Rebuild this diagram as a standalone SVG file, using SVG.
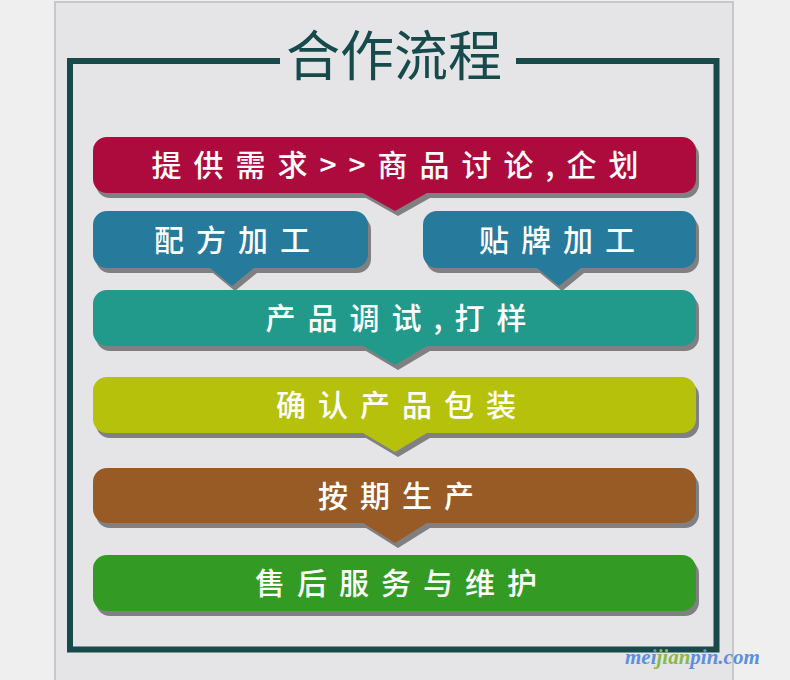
<svg xmlns="http://www.w3.org/2000/svg" width="790" height="680" viewBox="0 0 790 680">
<style>
.shadow{fill:#808083}
.lbl{font-family:"Noto Sans CJK SC","Noto Sans",sans-serif;font-size:30px;font-weight:500;fill:#ffffff;text-anchor:middle;letter-spacing:12px}
.title{font-family:"Noto Sans CJK SC","Noto Sans",sans-serif;font-size:54px;font-weight:400;fill:#164a4b;text-anchor:middle}
.wm{font-family:"Liberation Serif","DejaVu Serif",serif;font-style:italic;font-weight:bold;font-size:21px}
</style>
<rect x="0" y="0" width="790" height="680" fill="#efefef"/>
<rect x="55" y="2" width="678" height="700" fill="#e5e5e7" stroke="#c8c8c8" stroke-width="2"/>
<g id="frame">
<path d="M280,61 H70 V649.5 H716.5 V61 H516" fill="none" stroke="#164a4b" stroke-width="6"/>
<text class="title" x="394" y="76">合作流程</text>
</g>
<g id="connectors"></g>
<g id="n1">
<path class="shadow" transform="translate(3,5)" d="M107,137 H682 A14,14 0 0 1 696,151 V179 A14,14 0 0 1 682,193 H427 L395,211 L363,193 H107 A14,14 0 0 1 93,179 V151 A14,14 0 0 1 107,137 Z"/>
<path fill="#ad0b3e" d="M107,137 H682 A14,14 0 0 1 696,151 V179 A14,14 0 0 1 682,193 H427 L395,211 L363,193 H107 A14,14 0 0 1 93,179 V151 A14,14 0 0 1 107,137 Z"/>
<text class="lbl" x="401" y="176">提供需求&gt;&gt;商品讨论,企划</text>
</g>
<g id="n2">
<path class="shadow" transform="translate(3,5)" d="M107,211 H354 A14,14 0 0 1 368,225 V254 A14,14 0 0 1 354,268 H254 L232,286 L210,268 H107 A14,14 0 0 1 93,254 V225 A14,14 0 0 1 107,211 Z"/>
<path fill="#267a9b" d="M107,211 H354 A14,14 0 0 1 368,225 V254 A14,14 0 0 1 354,268 H254 L232,286 L210,268 H107 A14,14 0 0 1 93,254 V225 A14,14 0 0 1 107,211 Z"/>
<text class="lbl" x="238" y="251">配方加工</text>
</g>
<g id="n3">
<path class="shadow" transform="translate(3,5)" d="M437,211 H682 A14,14 0 0 1 696,225 V254 A14,14 0 0 1 682,268 H581 L559,286 L537,268 H437 A14,14 0 0 1 423,254 V225 A14,14 0 0 1 437,211 Z"/>
<path fill="#267a9b" d="M437,211 H682 A14,14 0 0 1 696,225 V254 A14,14 0 0 1 682,268 H581 L559,286 L537,268 H437 A14,14 0 0 1 423,254 V225 A14,14 0 0 1 437,211 Z"/>
<text class="lbl" x="563" y="251">贴牌加工</text>
</g>
<g id="n4">
<path class="shadow" transform="translate(3,5)" d="M107,290 H682 A14,14 0 0 1 696,304 V332 A14,14 0 0 1 682,346 H427 L395,365 L363,346 H107 A14,14 0 0 1 93,332 V304 A14,14 0 0 1 107,290 Z"/>
<path fill="#229a8b" d="M107,290 H682 A14,14 0 0 1 696,304 V332 A14,14 0 0 1 682,346 H427 L395,365 L363,346 H107 A14,14 0 0 1 93,332 V304 A14,14 0 0 1 107,290 Z"/>
<text class="lbl" x="402" y="329">产品调试,打样</text>
</g>
<g id="n5">
<path class="shadow" transform="translate(3,5)" d="M107,377 H682 A14,14 0 0 1 696,391 V419 A14,14 0 0 1 682,433 H427 L395,452 L363,433 H107 A14,14 0 0 1 93,419 V391 A14,14 0 0 1 107,377 Z"/>
<path fill="#b6c10b" d="M107,377 H682 A14,14 0 0 1 696,391 V419 A14,14 0 0 1 682,433 H427 L395,452 L363,433 H107 A14,14 0 0 1 93,419 V391 A14,14 0 0 1 107,377 Z"/>
<text class="lbl" x="402" y="416">确认产品包装</text>
</g>
<g id="n6">
<path class="shadow" transform="translate(3,5)" d="M107,468 H682 A14,14 0 0 1 696,482 V509 A14,14 0 0 1 682,523 H427 L395,543 L363,523 H107 A14,14 0 0 1 93,509 V482 A14,14 0 0 1 107,468 Z"/>
<path fill="#985b25" d="M107,468 H682 A14,14 0 0 1 696,482 V509 A14,14 0 0 1 682,523 H427 L395,543 L363,523 H107 A14,14 0 0 1 93,509 V482 A14,14 0 0 1 107,468 Z"/>
<text class="lbl" x="402" y="507">按期生产</text>
</g>
<g id="n7">
<rect class="shadow" x="96" y="560" width="603" height="56" rx="14"/>
<rect fill="#339b23" x="93" y="555" width="603" height="56" rx="14"/>
<text class="lbl" x="402" y="594">售后服务与维护</text>
</g>
<text class="wm" x="625" y="664"><tspan fill="#5b8fe0">mei</tspan><tspan fill="#8ab84a">jian</tspan><tspan fill="#5b8fe0">pin.com</tspan></text>
</svg>
